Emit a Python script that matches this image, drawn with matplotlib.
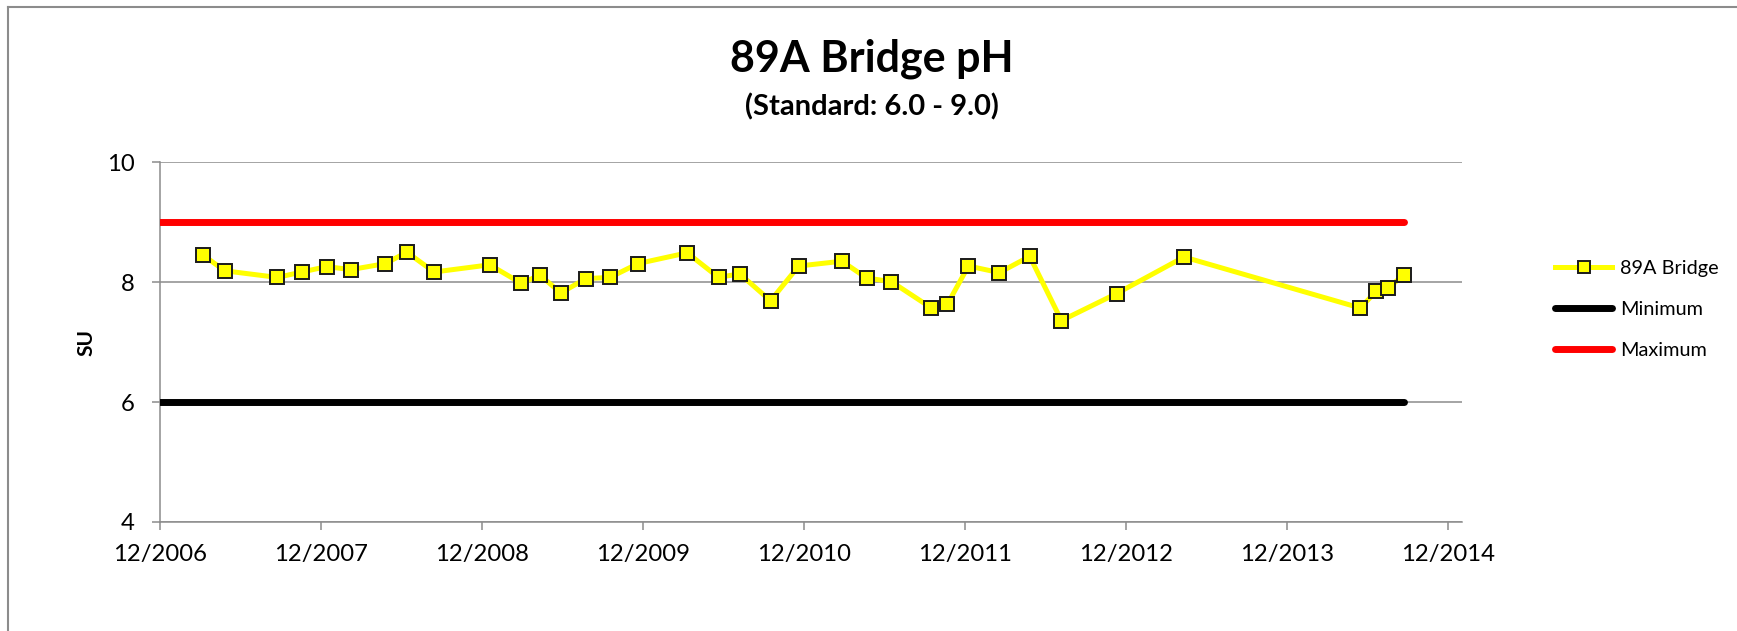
import matplotlib
matplotlib.use("Agg")
import matplotlib.pyplot as plt
from matplotlib.lines import Line2D
import numpy as np

plt.rcParams['font.family'] = ['Lato', 'DejaVu Sans']

# ---------------- data ----------------
sample_dates = [
    "2007-03-09", "2007-04-27", "2007-08-24", "2007-10-19", "2007-12-14",
    "2008-02-07", "2008-04-25", "2008-06-13", "2008-08-14", "2008-12-18",
    "2009-02-28", "2009-04-11", "2009-05-28", "2009-07-24", "2009-09-17",
    "2009-11-19", "2010-03-11", "2010-05-21", "2010-07-08", "2010-09-16",
    "2010-11-19", "2011-02-25", "2011-04-22", "2011-06-17", "2011-09-16",
    "2011-10-22", "2011-12-09", "2012-02-17", "2012-04-26", "2012-07-07",
    "2012-11-09", "2013-04-11", "2014-05-16", "2014-06-21", "2014-07-18",
    "2014-08-22",
]
ph_values = [
    8.45, 8.19, 8.08, 8.17, 8.26,
    8.21, 8.31, 8.50, 8.17, 8.29,
    7.98, 8.12, 7.82, 8.06, 8.08,
    8.31, 8.49, 8.08, 8.14, 7.69,
    8.27, 8.35, 8.07, 8.01, 7.57,
    7.63, 8.27, 8.16, 8.43, 7.36,
    7.81, 8.42, 7.57, 7.85, 7.90,
    8.12,
]
limit_dates = ["2006-12-01", "2014-08-22"]
minimum_values = [6.0, 6.0]
maximum_values = [9.0, 9.0]
series_name = "89A Bridge"
x_range = ["2006-12-01", "2015-01-01"]
x_tick_dates = ["2006-12-01", "2007-12-01", "2008-12-01", "2009-12-01", "2010-12-01",
                "2011-12-01", "2012-12-01", "2013-12-01", "2014-12-01"]
x_tick_labels = ["12/2006", "12/2007", "12/2008", "12/2009", "12/2010",
                 "12/2011", "12/2012", "12/2013", "12/2014"]
y_ticks = [4, 6, 8, 10]

# ---------------- figure ----------------
W, H = 1737, 631
fig = plt.figure(figsize=(W / 100, H / 100), dpi=100)
ax = fig.add_axes([160 / W, 1 - 522 / H, (1461.7 - 160) / W, (522 - 162.3) / H])

d = np.array(sample_dates, dtype="datetime64[D]")
ld = np.array(limit_dates, dtype="datetime64[D]")

ax.plot(ld, minimum_values, color="black", lw=5, solid_capstyle="round", label="Minimum", zorder=3)
ax.plot(ld, maximum_values, color="#FF0000", lw=5, solid_capstyle="round", label="Maximum", zorder=3)
ax.plot(d, ph_values, color="#FFFF00", lw=3.6, marker="s", markersize=9.5,
        markerfacecolor="#FFFF00", markeredgecolor="#1a1a1a", markeredgewidth=1.4,
        label=series_name, zorder=4)

xr = np.array(x_range, dtype="datetime64[D]")
ax.set_xlim(xr[0], xr[1])
ax.set_ylim(4, 10)
ax.set_yticks(y_ticks)
ax.set_xticks(np.array(x_tick_dates, dtype="datetime64[D]"))
ax.set_xticklabels(x_tick_labels)

grid_c = "#8c8c8c"
ax.yaxis.grid(True, color=grid_c, lw=1.1)
ax.set_axisbelow(True)
for s in ["top", "right"]:
    ax.spines[s].set_visible(False)
for s in ["left", "bottom"]:
    ax.spines[s].set_color(grid_c)
    ax.spines[s].set_linewidth(1.1)
ax.tick_params(axis="both", colors=grid_c, width=1.1, length=6, direction="out",
               labelsize=17.2, labelcolor="black")
ax.tick_params(axis="x", pad=10)
ax.tick_params(axis="y", pad=12)

ax.set_ylabel("SU", fontsize=15, fontweight="bold", labelpad=8)

fig.text(872 / W, 1 - 59 / H, "89A Bridge pH", ha="center", va="center",
         fontsize=31, fontweight="bold")
fig.text(872 / W, 1 - 107 / H, "(Standard: 6.0 - 9.0)", ha="center", va="center",
         fontsize=21, fontweight="bold")

# legend
h_series = Line2D([], [], color="#FFFF00", lw=3.6, marker="s", markersize=8,
                  markerfacecolor="#FFFF00", markeredgecolor="#1a1a1a", markeredgewidth=1.4)
h_min = Line2D([], [], color="black", lw=5, solid_capstyle="round")
h_max = Line2D([], [], color="#FF0000", lw=5, solid_capstyle="round")
fig.legend([h_series, h_min, h_max], [series_name, "Minimum", "Maximum"],
           loc="upper left", bbox_to_anchor=(1555 / W, 1 - 260 / H),
           bbox_transform=fig.transFigure, frameon=False, fontsize=14.3,
           handlelength=2.87, handletextpad=0.42, labelspacing=1.2, borderpad=0,
           borderaxespad=0)

# chart border (top and left visible)
fig.add_artist(Line2D([7.5 / W, 7.5 / W], [0, 1 - 7 / H], transform=fig.transFigure,
                      color="#8c8c8c", lw=1.5))
fig.add_artist(Line2D([7.5 / W, 1], [1 - 7 / H, 1 - 7 / H], transform=fig.transFigure,
                      color="#8c8c8c", lw=1.5))

fig.savefig("out.png", dpi=100)
